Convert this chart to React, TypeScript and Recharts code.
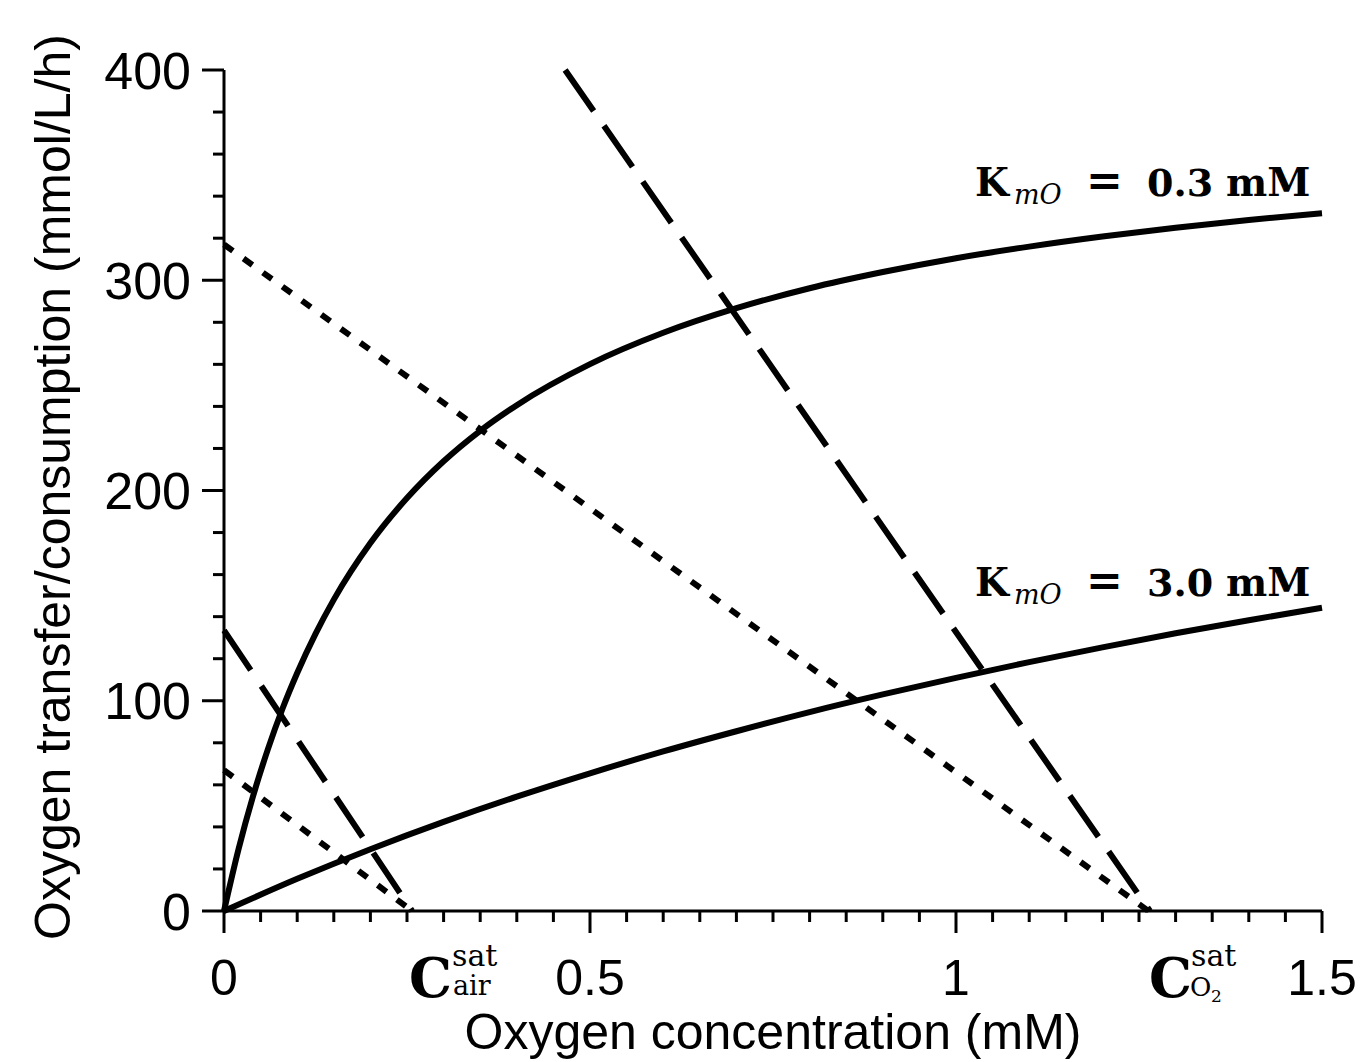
import React from "react";
import { LineChart, Line, XAxis, YAxis } from "recharts";

// Consumption curves
const curveKm03 = [
  { x: 0, y: 0 },
  { x: 0.02, y: 29.6 },
  { x: 0.04, y: 55 },
  { x: 0.06, y: 77 },
  { x: 0.08, y: 96.3 },
  { x: 0.1, y: 113.2 },
  { x: 0.125, y: 131.8 },
  { x: 0.15, y: 148.1 },
  { x: 0.2, y: 175 },
  { x: 0.25, y: 196.4 },
  { x: 0.3, y: 213.9 },
  { x: 0.35, y: 228.4 },
  { x: 0.4, y: 240.6 },
  { x: 0.5, y: 260.1 },
  { x: 0.6, y: 275 },
  { x: 0.7, y: 286.7 },
  { x: 0.8, y: 296.2 },
  { x: 0.9, y: 303.9 },
  { x: 1.0, y: 310.5 },
  { x: 1.1, y: 316 },
  { x: 1.2, y: 320.8 },
  { x: 1.3, y: 325 },
  { x: 1.4, y: 328.7 },
  { x: 1.5, y: 331.9 },
];

const curveKm30 = [
  { x: 0, y: 0 },
  { x: 0.1, y: 15.3 },
  { x: 0.2, y: 29.4 },
  { x: 0.3, y: 42.4 },
  { x: 0.4, y: 54.4 },
  { x: 0.5, y: 65.5 },
  { x: 0.6, y: 75.9 },
  { x: 0.7, y: 85.5 },
  { x: 0.8, y: 94.6 },
  { x: 0.9, y: 103 },
  { x: 1.0, y: 110.9 },
  { x: 1.1, y: 118.4 },
  { x: 1.2, y: 125.4 },
  { x: 1.3, y: 132.1 },
  { x: 1.4, y: 138.3 },
  { x: 1.5, y: 144.2 },
];

// Oxygen transfer lines
const dottedLong = [
  { x: 0, y: 317 },
  { x: 1.263, y: 0 },
];
const dashedLong = [
  { x: 0.466, y: 400 },
  { x: 1.265, y: 0 },
];
const dashedShort = [
  { x: 0, y: 133.5 },
  { x: 0.257, y: 0 },
];
const dottedShort = [
  { x: 0, y: 67 },
  { x: 0.257, y: 0 },
];

const xTicks = [
  0, 0.05, 0.1, 0.15, 0.2, 0.25, 0.3, 0.35, 0.4, 0.45, 0.5, 0.55, 0.6, 0.65,
  0.7, 0.75, 0.8, 0.85, 0.9, 0.95, 1, 1.05, 1.1, 1.15, 1.2, 1.25, 1.3, 1.35,
  1.4, 1.45, 1.5,
];
const xMajorLabels = ["0", "0.5", "1", "1.5"];
const yTicks = [
  0, 20, 40, 60, 80, 100, 120, 140, 160, 180, 200, 220, 240, 260, 280, 300,
  320, 340, 360, 380, 400,
];
const yMajorLabels = ["0", "100", "200", "300", "400"];

const SANS = "'Liberation Sans', Arial, Helvetica, sans-serif";
const SERIF = "'DejaVu Serif', 'Liberation Serif', serif";

const XTick = (props: any) => {
  const { x, y, payload } = props;
  const v = payload.value as number;
  const idx = Math.round(v * 2);
  const major = Math.abs(v * 2 - idx) < 1e-6;
  return (
    <g>
      <line x1={x} y1={y} x2={x} y2={y + (major ? 22 : 11)} stroke="#000" strokeWidth={3} />
      {major && (
        <text x={x} y={y + 84} textAnchor="middle" fontFamily={SANS} fontSize={50} fill="#000">
          {xMajorLabels[idx]}
        </text>
      )}
    </g>
  );
};

const YTick = (props: any) => {
  const { x, y, payload } = props;
  const v = payload.value as number;
  const idx = Math.round(v / 100);
  const major = Math.abs(v / 100 - idx) < 1e-6;
  return (
    <g>
      <line x1={x - (major ? 22 : 11)} y1={y} x2={x} y2={y} stroke="#000" strokeWidth={3} />
      {major && (
        <text x={x - 33} y={y} dy="0.36em" textAnchor="end" fontFamily={SANS} fontSize={52} fill="#000">
          {yMajorLabels[idx]}
        </text>
      )}
    </g>
  );
};

const KmLabel = ({ y, value }: { y: number; value: string }) => (
  <g fontFamily={SERIF} fill="#000">
    <text x={975} y={y} fontSize={39} fontWeight="bold">K</text>
    <text x={1014} y={y + 8} fontSize={27} fontStyle="italic">mO</text>
    <text x={1086} y={y} fontSize={44} fontWeight="bold">=</text>
    <text x={1147} y={y} fontSize={38} fontWeight="bold">{value}</text>
    <text x={1226} y={y} fontSize={39} fontWeight="bold">mM</text>
  </g>
);

export default function App() {
  return (
    <div style={{ position: "absolute", left: 0, top: 0, width: 1361, height: 1062, background: "#fff" }}>
      <LineChart
        width={1361}
        height={1062}
        margin={{ top: 70, right: 39, bottom: 150, left: 223 }}
      >
        <XAxis
          type="number"
          dataKey="x"
          domain={[0, 1.5]}
          ticks={xTicks}
          interval={0}
          height={1}
          tickSize={0}
          tickMargin={0}
          tickLine={false}
          tick={<XTick />}
          axisLine={{ stroke: "#000", strokeWidth: 3 }}
        />
        <YAxis
          type="number"
          dataKey="y"
          domain={[0, 400]}
          ticks={yTicks}
          interval={0}
          width={1}
          tickSize={0}
          tickMargin={0}
          tickLine={false}
          tick={<YTick />}
          axisLine={{ stroke: "#000", strokeWidth: 3 }}
        />
        <Line data={dottedLong} dataKey="y" stroke="#000" strokeWidth={6} strokeDasharray="11 13" dot={false} isAnimationActive={false} />
        <Line data={dottedShort} dataKey="y" stroke="#000" strokeWidth={6} strokeDasharray="11 13" dot={false} isAnimationActive={false} />
        <Line data={dashedLong} dataKey="y" stroke="#000" strokeWidth={6} strokeDasharray="50 18" dot={false} isAnimationActive={false} />
        <Line data={dashedShort} dataKey="y" stroke="#000" strokeWidth={6} strokeDasharray="48 19" dot={false} isAnimationActive={false} />
        <Line data={curveKm03} dataKey="y" type="monotone" stroke="#000" strokeWidth={6} dot={false} isAnimationActive={false} />
        <Line data={curveKm30} dataKey="y" type="monotone" stroke="#000" strokeWidth={6} dot={false} isAnimationActive={false} />
      </LineChart>
      <svg
        width={1361}
        height={1062}
        style={{ position: "absolute", left: 0, top: 0, pointerEvents: "none" }}
      >
        <text
          transform="translate(70,487) rotate(-90)"
          textAnchor="middle"
          fontFamily={SANS}
          fontSize={50}
          fill="#000"
        >
          Oxygen transfer/consumption (mmol/L/h)
        </text>
        <text x={773} y={1049} textAnchor="middle" fontFamily={SANS} fontSize={50} fill="#000">
          Oxygen concentration (mM)
        </text>
        <KmLabel y={196} value="0.3" />
        <KmLabel y={596} value="3.0" />
        <g fontFamily={SERIF} fill="#000">
          <text x={409} y={997} fontSize={54} fontWeight="bold">C</text>
          <text x={452} y={966} fontSize={30}>sat</text>
          <text x={453} y={995} fontSize={27}>air</text>
          <text x={1149} y={997} fontSize={54} fontWeight="bold">C</text>
          <text x={1191} y={966} fontSize={30}>sat</text>
          <text x={1190} y={996} fontSize={26}>O</text>
          <text x={1211} y={1002} fontSize={17}>2</text>
        </g>
      </svg>
    </div>
  );
}
